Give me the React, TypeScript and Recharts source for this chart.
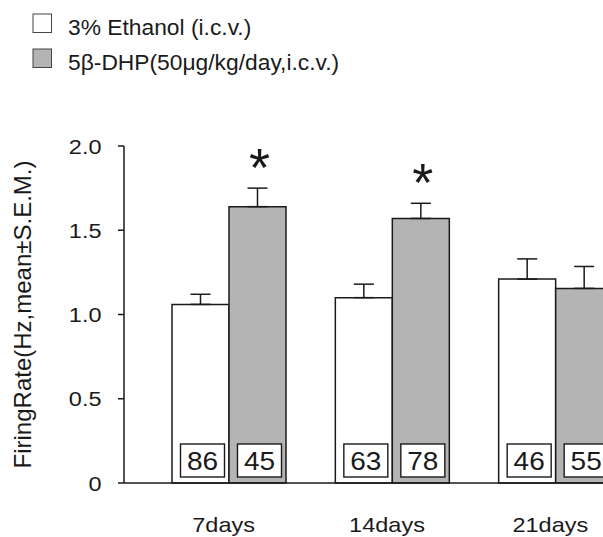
import { BarChart, Bar, XAxis, YAxis, ErrorBar, LabelList } from 'recharts';

const categories = ['7days', '14days', '21days'];
const ethanolMean = [1.06, 1.1, 1.21];
const ethanolSem = [0.06, 0.08, 0.12];
const ethanolN = [86, 63, 46];
const dhpMean = [1.64, 1.57, 1.155];
const dhpSem = [0.11, 0.09, 0.13];
const dhpN = [45, 78, 55];
const dhpSignificant = [true, true, false];
const yTicks = [0, 0.5, 1.0, 1.5, 2.0];
const seriesNames = ['3% Ethanol (i.c.v.)', '5β-DHP(50μg/kg/day,i.c.v.)'];

const FONT = '"Liberation Sans", Arial, Helvetica, sans-serif';
const INK = '#1a1a1a';
const GRAY = '#b4b4b4';

const data = categories.map((day, i) => ({
  day,
  ethanol: ethanolMean[i],
  ethanolErr: [0, ethanolSem[i]],
  dhp: dhpMean[i],
  dhpErr: [0, dhpSem[i]],
}));

// the scan is a bit wider than the type, so stretch text sideways
function Wide({ x, y, sx, size, anchor = 'middle', children }: any) {
  return (
    <text
      transform={`translate(${x},${y}) scale(${sx},1)`}
      textAnchor={anchor}
      fontSize={size}
      fontFamily={FONT}
      fill={INK}
    >
      {children}
    </text>
  );
}

function geom(props: any) {
  const vb = props.viewBox || {};
  return {
    x: props.x ?? vb.x,
    y: props.y ?? vb.y,
    width: props.width ?? vb.width,
    height: props.height ?? vb.height,
    index: props.index,
  };
}

// n per group, boxed at the foot of each bar
const countBox = (counts: number[]) => (props: any) => {
  const { x, y, width, height, index } = geom(props);
  if (x == null || counts[index] == null) return null;
  const cx = x + width / 2 + 2;
  const bottom = y + height;
  return (
    <g>
      <rect x={cx - 22} y={bottom - 39} width={44} height={33} fill="#fff" stroke={INK} strokeWidth={1.4} />
      <Wide x={cx} y={bottom - 13.5} sx={1.12} size={25}>
        {counts[index]}
      </Wide>
    </g>
  );
};

const star = (props: any) => {
  const { x, y, width, height, index } = geom(props);
  if (x == null || !dhpSignificant[index]) return null;
  const errPx = (dhpSem[index] * height) / dhpMean[index];
  return (
    <text x={x + width / 2 + 2} y={y - errPx - 2} textAnchor="middle" fontSize={54} fontFamily={FONT} fill={INK}>
      *
    </text>
  );
};

function YTick({ x, y, payload }: any) {
  const v = payload.value;
  return (
    <Wide x={x} y={y + 7.5} sx={1.12} size={21} anchor="end">
      {v === 0 ? '0' : v.toFixed(1)}
    </Wide>
  );
}

function XTick({ x, y, payload }: any) {
  return (
    <Wide x={x - 5} y={y + 40.5} sx={1.12} size={21}>
      {payload.value}
    </Wide>
  );
}

function LegendBox() {
  const fills = ['#fff', GRAY];
  return (
    <svg width={420} height={80} style={{ position: 'absolute', left: 32, top: 8 }}>
      {seriesNames.map((name, i) => (
        <g key={name} transform={`translate(0, ${i * 35})`}>
          <rect x={1} y={6} width={18.5} height={18.5} fill={fills[i]} stroke="#444" strokeWidth={1} />
          <text x={36} y={26.5} fontSize={22.8} fontFamily={FONT} fill={INK}>
            {name}
          </text>
        </g>
      ))}
    </svg>
  );
}

export default function App() {
  return (
    <div style={{ position: 'fixed', left: 0, top: 0, width: 603, height: 537, overflow: 'hidden', background: '#fff' }}>
      <BarChart
        width={660}
        height={537}
        data={data}
        margin={{ top: 146, right: 23, bottom: 0, left: 0 }}
        barGap={0}
        barSize={57}
      >
        <XAxis
          dataKey="day"
          height={54}
          padding={{ left: 23, right: 0 }}
          axisLine={{ stroke: INK, strokeWidth: 1.5 }}
          tickLine={false}
          tick={<XTick />}
          interval={0}
        />
        <YAxis
          width={124}
          domain={[0, 2]}
          ticks={yTicks}
          interval={0}
          axisLine={{ stroke: INK, strokeWidth: 1.5 }}
          tickLine={{ stroke: INK, strokeWidth: 1.5 }}
          tickSize={6}
          tickMargin={16.5}
          tick={<YTick />}
          label={{
            value: 'FiringRate(Hz,mean±S.E.M.)',
            angle: -90,
            position: 'insideLeft',
            dx: 17,
            style: { fontSize: 24, fontFamily: FONT, fill: INK, textAnchor: 'middle' },
          }}
        />
        <Bar dataKey="ethanol" fill="#fff" stroke={INK} strokeWidth={1.5} isAnimationActive={false}>
          <ErrorBar dataKey="ethanolErr" direction="y" width={10} stroke={INK} strokeWidth={1.5} />
          <LabelList content={countBox(ethanolN)} />
        </Bar>
        <Bar dataKey="dhp" fill={GRAY} stroke={INK} strokeWidth={1.5} isAnimationActive={false}>
          <ErrorBar dataKey="dhpErr" direction="y" width={10} stroke={INK} strokeWidth={1.5} />
          <LabelList content={countBox(dhpN)} />
          <LabelList content={star} />
        </Bar>
      </BarChart>
      <LegendBox />
    </div>
  );
}
